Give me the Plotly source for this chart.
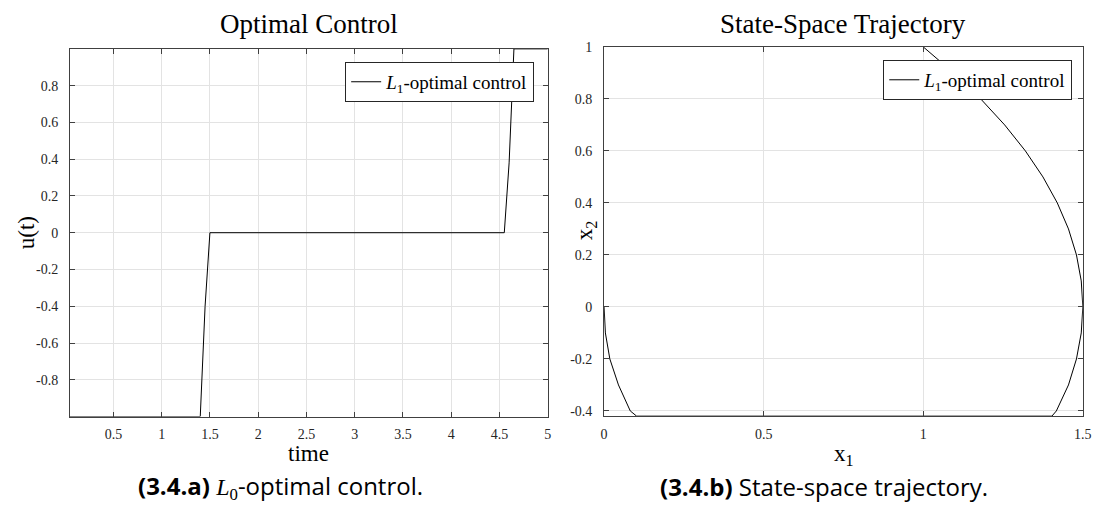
import plotly.graph_objects as go

# ---- data ----
time_vals = [0.05, 1.4, 1.45, 1.5, 4.55, 4.6, 4.65, 5.0]
u_vals = [-1.0, -1.0, -0.4, 0.0, 0.0, 0.38, 1.0, 1.0]

x1_vals = [1.0, 1.095, 1.18, 1.255, 1.32, 1.375, 1.42, 1.455, 1.48, 1.495, 1.5,
           1.495, 1.48, 1.455, 1.417, 1.403, 0.102, 0.082, 0.045, 0.018, 0.004, 0.0]
x2_vals = [1.0, 0.9, 0.8, 0.7, 0.6, 0.5, 0.4, 0.3, 0.2, 0.1, 0.0,
           -0.1, -0.2, -0.3, -0.4, -0.42, -0.42, -0.4, -0.3, -0.2, -0.1, 0.0]

left_xticks = [0.5, 1, 1.5, 2, 2.5, 3, 3.5, 4, 4.5, 5]
left_xtext = ["0.5", "1", "1.5", "2", "2.5", "3", "3.5", "4", "4.5", "5"]
left_yticks = [-0.8, -0.6, -0.4, -0.2, 0, 0.2, 0.4, 0.6, 0.8]
left_ytext = ["-0.8", "-0.6", "-0.4", "-0.2", "0", "0.2", "0.4", "0.6", "0.8"]
right_xticks = [0, 0.5, 1, 1.5]
right_xtext = ["0", "0.5", "1", "1.5"]
right_yticks = [-0.4, -0.2, 0, 0.2, 0.4, 0.6, 0.8, 1]
right_ytext = ["-0.4", "-0.2", "0", "0.2", "0.4", "0.6", "0.8", "1"]

legend_name = "<i>L</i><sub>1</sub>-optimal control"

SERIF = "Liberation Serif"
SANS = "Open Sans"
W, H = 1105, 512

def px(x):
    return x / W

def py(y):
    return 1 - y / H

fig = go.Figure()
fig.add_trace(go.Scatter(x=time_vals, y=u_vals, mode="lines",
                         line=dict(color="black", width=1),
                         name=legend_name, xaxis="x", yaxis="y", legend="legend"))
fig.add_trace(go.Scatter(x=x1_vals, y=x2_vals, mode="lines",
                         line=dict(color="black", width=1),
                         name=legend_name, xaxis="x2", yaxis="y2", legend="legend2"))

axis_common = dict(
    showline=True, linecolor="#404040", linewidth=1, mirror="ticks",
    ticks="inside", ticklen=5, tickcolor="#404040", tickwidth=1,
    showgrid=True, gridcolor="#e3e3e3", gridwidth=1, zeroline=False,
    tickfont=dict(family=SERIF, size=14, color="#262626"),
    tickmode="array", fixedrange=True,
)

fig.update_layout(
    width=W, height=H,
    margin=dict(l=0, r=0, t=0, b=0),
    paper_bgcolor="white", plot_bgcolor="white",
    xaxis=dict(domain=[px(67.7), px(550.7)], range=[0.05, 5], anchor="y",
               tickvals=left_xticks, ticktext=left_xtext, ticklabelstandoff=5, **axis_common),
    yaxis=dict(domain=[py(417.7), py(42.7)], range=[-1, 1], anchor="x",
               tickvals=left_yticks, ticktext=left_ytext, ticklabelstandoff=8, **axis_common),
    xaxis2=dict(domain=[px(607.7), px(1091.7)], range=[0, 1.5], anchor="y2",
                tickvals=right_xticks, ticktext=right_xtext, ticklabelstandoff=5, **axis_common),
    yaxis2=dict(domain=[py(417.3), py(40.7)], range=[-0.42, 1], anchor="x2",
                tickvals=right_yticks, ticktext=right_ytext, ticklabelstandoff=8, **axis_common),
    legend=dict(x=px(537), y=py(56), xanchor="right", yanchor="top",
                bgcolor="white", bordercolor="#262626", borderwidth=1,
                font=dict(family=SERIF, size=19, color="black"),
                itemwidth=30, tracegroupgap=0),
    legend2=dict(x=px(1081), y=py(54), xanchor="right", yanchor="top",
                 bgcolor="white", bordercolor="#262626", borderwidth=1,
                 font=dict(family=SERIF, size=19, color="black"),
                 itemwidth=30, tracegroupgap=0),
    showlegend=True,
)

annotations = [
    dict(text="Optimal Control", x=px(309), y=py(17), font=dict(family=SERIF, size=27, color="black")),
    dict(text="State-Space Trajectory", x=px(849), y=py(17), font=dict(family=SERIF, size=27, color="black")),
    dict(text="time", x=px(309), y=py(455), font=dict(family=SERIF, size=23, color="black")),
    dict(text="u(t)", x=px(24), y=py(230), textangle=-90, font=dict(family=SERIF, size=23, color="black")),
    dict(text="x<sub>1</sub>", x=px(850), y=py(457), font=dict(family=SERIF, size=23, color="black")),
    dict(text="x<sub>2</sub>", x=px(589), y=py(228), textangle=-90, font=dict(family=SERIF, size=23, color="black")),
    dict(text="<b>(3.4.a)</b> <span style='font-family:Liberation Serif'><i>L</i><sub>0</sub></span>-optimal control.",
         x=px(281), y=py(489), font=dict(family=SANS, size=24, color="black")),
    dict(text="<b>(3.4.b)</b> State-space trajectory.",
         x=px(830), y=py(489), font=dict(family=SANS, size=24, color="black")),
]
for a in annotations:
    a.update(xref="paper", yref="paper", showarrow=False, xanchor="center", yanchor="middle")
fig.update_layout(annotations=annotations)

fig.write_html("out.html")
